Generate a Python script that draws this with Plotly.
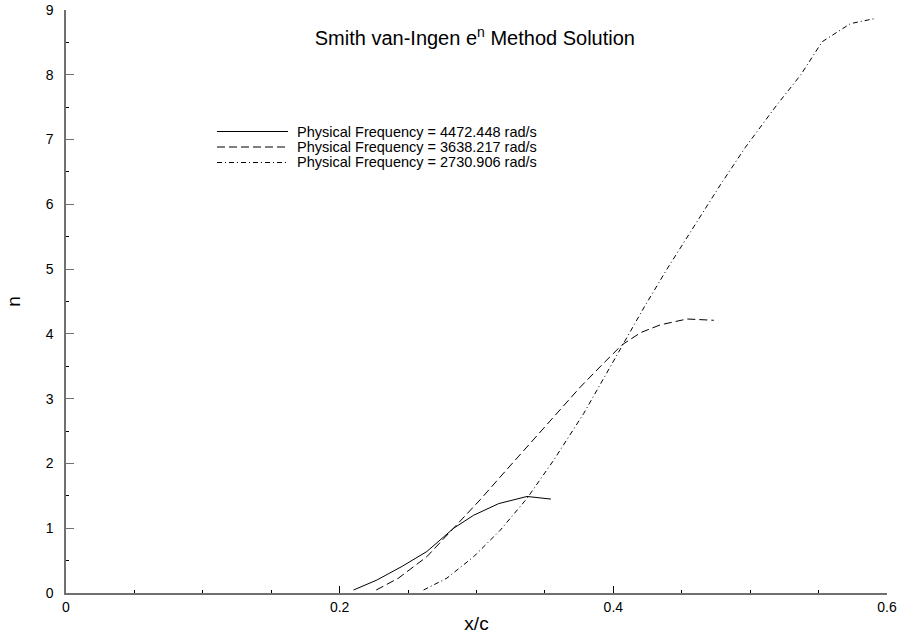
import plotly.graph_objects as go

# Data
x_4472 = [0.2101, 0.2272, 0.2455, 0.2637, 0.2833, 0.2979, 0.3162, 0.3369, 0.3544]
n_4472 = [0.046, 0.20, 0.41, 0.64, 1.00, 1.20, 1.38, 1.49, 1.45]

x_3638 = [0.2267, 0.2430, 0.2637, 0.2833, 0.3027, 0.3198, 0.3393, 0.3588, 0.3759, 0.3930, 0.4063, 0.4200, 0.4344, 0.4539, 0.4734]
n_3638 = [0.046, 0.23, 0.56, 1.00, 1.44, 1.85, 2.31, 2.77, 3.18, 3.55, 3.83, 4.02, 4.14, 4.23, 4.21]

x_2731 = [0.2613, 0.2784, 0.2979, 0.3174, 0.3369, 0.3564, 0.3783, 0.3917, 0.4063, 0.4222, 0.4392, 0.4587, 0.4782, 0.4965, 0.5190, 0.5370, 0.5526, 0.5733, 0.5916]
n_2731 = [0.046, 0.23, 0.56, 0.97, 1.46, 2.05, 2.77, 3.27, 3.83, 4.40, 5.00, 5.65, 6.30, 6.88, 7.52, 8.00, 8.51, 8.79, 8.87]

series_names = ["Physical Frequency = 4472.448 rad/s",
                "Physical Frequency = 3638.217 rad/s",
                "Physical Frequency = 2730.906 rad/s"]
dashes = ["solid", "8px,4px", "5px,3px,1px,3px"]

x_ticks = [0, 0.2, 0.4, 0.6]
x_tick_labels = ["0", "0.2", "0.4", "0.6"]
y_ticks = [0, 1, 2, 3, 4, 5, 6, 7, 8, 9]

FONT = "Liberation Sans, Arial, sans-serif"

fig = go.Figure()
for xs, ys, d, name in zip([x_4472, x_3638, x_2731], [n_4472, n_3638, n_2731], dashes, series_names):
    fig.add_trace(go.Scatter(x=xs, y=ys, mode="lines", name=name,
                             line=dict(color="black", width=1, dash=d),
                             showlegend=False))

# Manual legend (paper coordinates; plot area spans y 10..593 px)
leg_px = [131.5, 147, 162.5]
leg_y = [(593 - p) / 583 for p in leg_px]
for yy, d, name in zip(leg_y, dashes, series_names):
    fig.add_shape(type="line", xref="paper", yref="paper",
                  x0=(217 - 66) / 821, x1=(288 - 66) / 821, y0=yy, y1=yy,
                  line=dict(color="black", width=1, dash=d))
    fig.add_annotation(xref="paper", yref="paper", x=(297 - 66) / 821, y=yy,
                       text=name, showarrow=False, xanchor="left", yanchor="middle",
                       xshift=-1, borderpad=0,
                       font=dict(family=FONT, size=14.5, color="black"))

fig.update_layout(
    width=899, height=634,
    margin=dict(l=66, r=12, t=10, b=41),
    paper_bgcolor="white", plot_bgcolor="white",
    font=dict(family=FONT, color="black"),
    title=dict(text="Smith van-Ingen e<sup>n</sup> Method Solution",
               x=0.498, xref="paper", xanchor="center",
               y=1 - 38 / 634, yref="container", yanchor="middle",
               font=dict(family=FONT, size=20, color="black")),
)
fig.update_xaxes(range=[0, 0.6], tickvals=x_ticks, ticktext=x_tick_labels,
                 automargin=False,
                 showgrid=False, zeroline=False, showline=True,
                 linecolor="#707070", linewidth=1.5,
                 ticks="inside", ticklen=7, tickcolor="black", tickwidth=1,
                 minor=dict(ticks="inside", ticklen=3, dtick=0.05, tickcolor="black", showgrid=False),
                 tickfont=dict(family=FONT, size=14, color="black"),
                 title=dict(text="x/c", font=dict(family=FONT, size=19, color="black"), standoff=3))
fig.update_yaxes(range=[0, 9], tickvals=y_ticks,
                 automargin=False,
                 showgrid=False, zeroline=False, showline=True,
                 linecolor="#707070", linewidth=1.5,
                 ticks="inside", ticklen=8, tickcolor="#707070", tickwidth=1,
                 minor=dict(ticks="inside", ticklen=3, dtick=0.5, tickcolor="black", showgrid=False),
                 tickfont=dict(family=FONT, size=14, color="black"),
                 ticklabelstandoff=8,
                 title=dict(text="n", font=dict(family=FONT, size=19, color="black"), standoff=20))

fig.write_html("out.html")
